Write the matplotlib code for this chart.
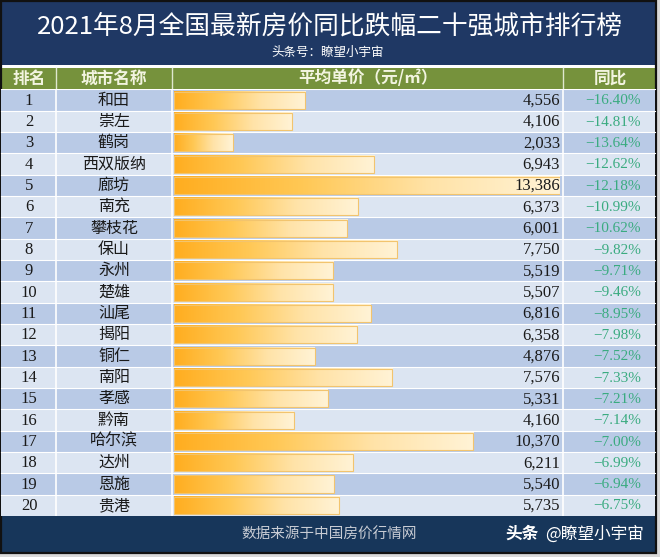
import matplotlib
matplotlib.use("Agg")
import matplotlib.pyplot as plt
import numpy as np
from matplotlib.patches import Rectangle
from matplotlib.colors import LinearSegmentedColormap

plt.rcParams['font.family'] = ['Noto Sans CJK SC', 'DejaVu Sans']

title = "2021年8月全国最新房价同比跌幅二十强城市排行榜"
subtitle = "头条号：瞭望小宇宙"
headers = ["排名", "城市名称", "平均单价（元/㎡）", "同比"]
ranks = list(range(1, 21))
cities = ["和田", "崇左", "鹤岗", "西双版纳", "廊坊", "南充", "攀枝花", "保山", "永州", "楚雄",
          "汕尾", "揭阳", "铜仁", "南阳", "孝感", "黔南", "哈尔滨", "达州", "恩施", "贵港"]
prices = [4556, 4106, 2033, 6943, 13386, 6373, 6001, 7750, 5519, 5507,
          6816, 6358, 4876, 7576, 5331, 4160, 10370, 6211, 5540, 5735]
changes = [-16.40, -14.81, -13.64, -12.62, -12.18, -10.99, -10.62, -9.82, -9.71, -9.46,
           -8.95, -7.98, -7.52, -7.33, -7.21, -7.14, -7.00, -6.99, -6.94, -6.75]
footer_src = "数据来源于中国房价行情网"
footer_brand1 = "头条"
footer_brand2 = "@瞭望小宇宙"

W, H = 660, 557
fig = plt.figure(figsize=(W / 100, H / 100), dpi=100)
fig.patch.set_facecolor("#d9d9d9")

# page axes in pixel coordinates
ax0 = fig.add_axes([0, 0, 1, 1])
ax0.set_xlim(0, W)
ax0.set_ylim(H, 0)
ax0.axis("off")

navy = "#1f3864"
ax0.add_patch(Rectangle((0, 0), 656, 554, facecolor="white", edgecolor="none"))
ax0.add_patch(Rectangle((1, 1), 654, 64, facecolor=navy, edgecolor="none"))
ax0.add_patch(Rectangle((1, 67.5), 654, 22, facecolor="#76923c", edgecolor="none"))
ax0.add_patch(Rectangle((1, 516), 654, 36, facecolor="#17365a", edgecolor="none"))
ax0.add_patch(Rectangle((0.5, 0.5), 655, 552.5, facecolor="none", edgecolor="#111111", lw=1.6))

ax0.text(330, 27, title, color="white", fontsize=18.5, fontweight="light", ha="center", va="center")
ax0.text(328, 52, subtitle, color="white", fontsize=9, ha="center", va="center")

hx = [29, 114, 368, 610]
for x, h in zip(hx, headers):
    ax0.text(x, 78.5, h, color="#f2f4e0", fontsize=12, fontweight="bold", ha="center", va="center")

ax0.text(329, 535, footer_src, color="#c8ccd4", fontsize=10.5, ha="center", va="center")
ax0.text(505, 534, footer_brand1, color="white", fontsize=12, fontweight="bold", ha="left", va="center")
ax0.text(644, 534, footer_brand2, color="white", fontsize=12, ha="right", va="center")

# table rows axes: y in row index
top, bot = 89.5, 516
axt = fig.add_axes([0, 1 - bot / H, 1, (bot - top) / H])
axt.set_xlim(0, W)
axt.set_ylim(len(ranks) - 0.5, -0.5)
axt.axis("off")
for i in range(len(ranks)):
    c = "#b9cae6" if i % 2 == 0 else "#dce5f2"
    axt.add_patch(Rectangle((1, i - 0.5), 654, 1, facecolor=c, edgecolor="none"))
    axt.axhline(i - 0.5, xmin=1 / W, xmax=655 / W, color="white", lw=0.8)
for xs in [56, 172, 563]:
    axt.axvline(xs, color="white", lw=1.2)
    ax0.plot([xs, xs], [67.5, 89.5], color="#dfe8cf", lw=1.0)

serif = ["Liberation Serif", "Noto Sans CJK SC"]
for i, (r, c, ch) in enumerate(zip(ranks, cities, changes)):
    axt.text(29, i + 0.03, str(r), fontsize=12, ha="center", va="center", family=serif, color="#1a1a1a")
    axt.text(114, i, c, fontsize=11.5, ha="center", va="center", color="#1a1a1a")
    axt.text(641, i + 0.03, f"−{abs(ch):.2f}%", fontsize=11, ha="right", va="center", family=serif,
             color="#3aab80")

# bar axes: value scale
axb = fig.add_axes([174 / W, 1 - bot / H, (560 - 174) / W, (bot - top) / H])
axb.patch.set_alpha(0)
cmap = LinearSegmentedColormap.from_list("g", ["#ffad1f", "#ffc855", "#ffe3a8", "#fff3d6"])
grad = np.linspace(0, 1, 256).reshape(1, -1)
hb = 0.8
for i, p in enumerate(prices):
    axb.imshow(grad, cmap=cmap, aspect="auto", extent=[0, p, i + hb / 2, i - hb / 2],
               interpolation="bilinear", zorder=2)
    axb.add_patch(Rectangle((0, i - hb / 2), p, hb, facecolor="none", edgecolor="#f2c46e",
                            lw=0.8, zorder=3))
    axb.text(560, i + 0.03, f"{p:,}", fontsize=12, ha="right", va="center", family=serif,
             color="#1a1a1a", transform=axt.transData, zorder=5, clip_on=False)
axb.set_xlim(0, 13386)
axb.set_ylim(len(ranks) - 0.5, -0.5)
axb.axis("off")

fig.savefig("out.png", dpi=100, facecolor=fig.get_facecolor())
